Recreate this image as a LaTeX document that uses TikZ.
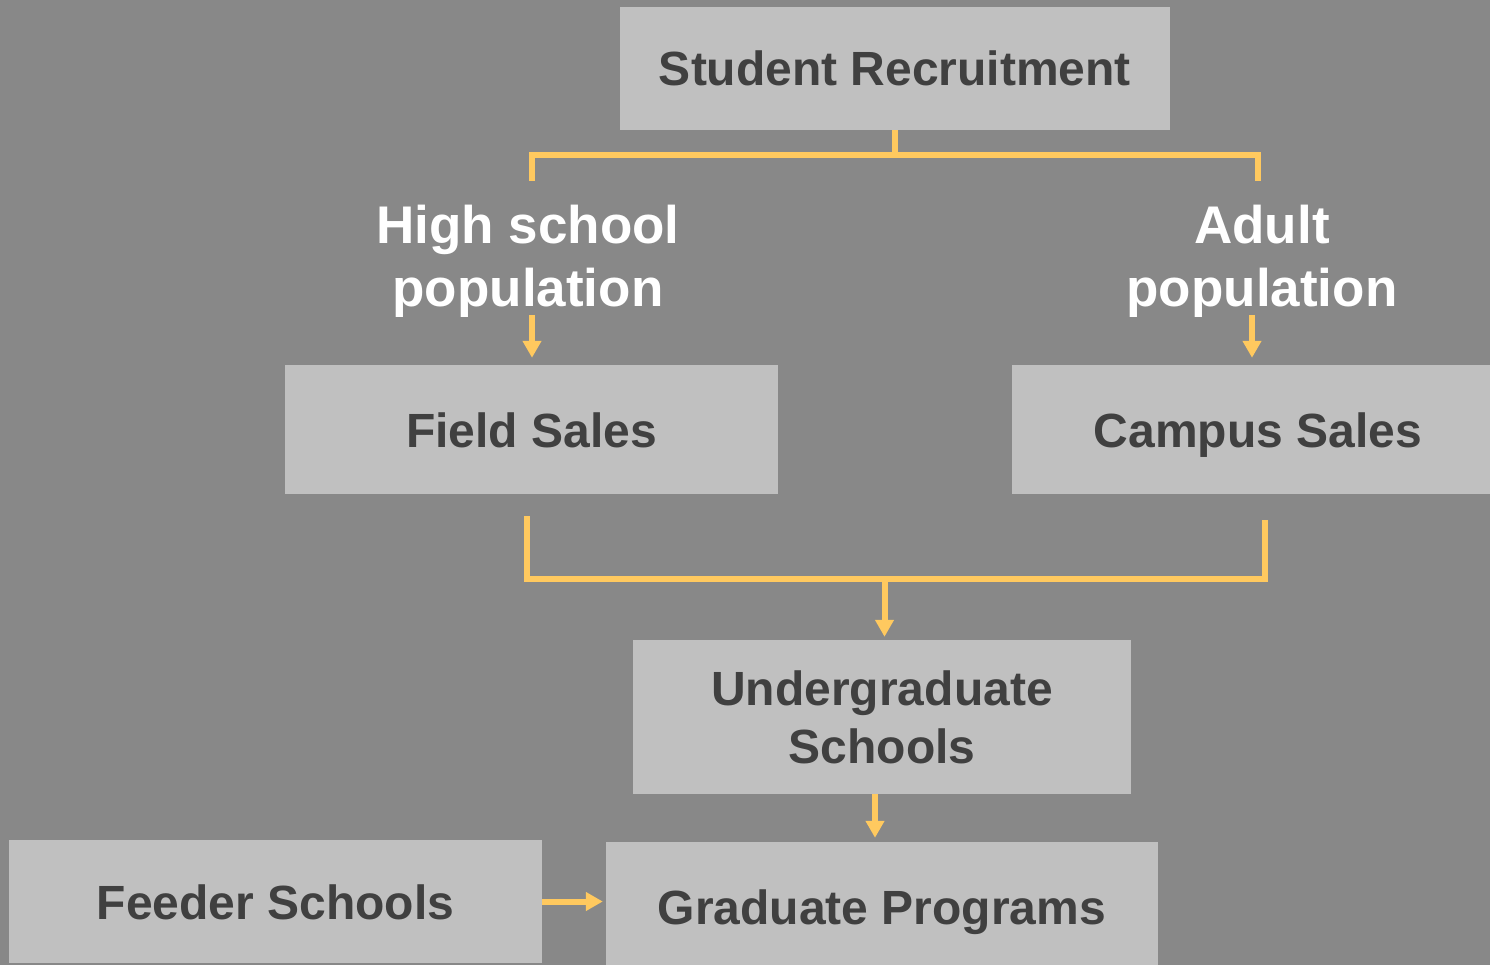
\documentclass[tikz,border=0pt]{standalone}
\usepackage{fontspec}
\setmainfont{Liberation Sans}
\usetikzlibrary{arrows.meta}
\definecolor{bggray}{HTML}{888888}
\definecolor{boxgray}{HTML}{C0C0C0}
\definecolor{boxtext}{HTML}{404040}
\definecolor{flow}{HTML}{FFC95F}
\begin{document}
\begin{tikzpicture}[x=1pt,y=-1pt,
  box/.style={fill=boxgray,draw=none,inner sep=0pt,text=boxtext,
    font=\fontsize{48}{58}\selectfont\bfseries,align=center},
  onerow/.style={box,text height=35pt,text depth=0pt},
  grouplabel/.style={inner sep=0pt,text=white,
    font=\fontsize{53}{63}\selectfont\bfseries,align=center},
  link/.style={draw=flow,line width=6pt,line join=miter},
  arr/.style={link,-{Triangle[length=17pt,width=18pt]}}]
\useasboundingbox (0,0) rectangle (1490,965);
\clip (0,0) rectangle (1490,965);
\fill[bggray] (0,0) rectangle (1490,965);

% boxes
\node[onerow,minimum width=550pt,minimum height=123pt] (rec) at (895,68.5) {Student Recruitment};
\node[onerow,minimum width=493pt,minimum height=129pt] (field) at (531.5,429.5) {Field Sales};
\node[onerow,minimum width=492pt,minimum height=129pt] (campus) at (1258,429.5) {Campus Sales};
\node[box,minimum width=498pt,minimum height=154pt] (under) at (882,717) {Undergraduate\\Schools};
\node[onerow,minimum width=552pt,minimum height=130pt] (grad) at (882,907) {Graduate Programs};
\node[onerow,minimum width=533pt,minimum height=123pt] (feeder) at (275.5,901.5) {Feeder Schools};

% group labels
\node[grouplabel] (hs) at (528,261) {High school\\population};
\node[grouplabel] (adult) at (1262,261) {Adult\\population};

% top bracket
\coordinate (tj) at (895,155.5);
\coordinate (hsTop) at (532,181);
\coordinate (adTop) at (1258,181);
\draw[link] (rec.south) -- (tj);
\draw[link] (hsTop) |- (tj) -| (adTop);

% label arrows
\coordinate (hsOut) at (532,315);
\coordinate (adOut) at (1252,315);
\draw[arr,shorten >=7pt] (hsOut) -- (hsOut |- field.north);
\draw[arr,shorten >=7pt] (adOut) -- (adOut |- campus.north);

% bottom bracket
\coordinate (fsOut) at (527,516);
\coordinate (csOut) at (1265,520);
\coordinate (bj) at (884.5,579);
\draw[link] (fsOut) |- (bj) -| (csOut);
\draw[arr,shorten >=3pt] (bj) -- (bj |- under.north);

% lower arrows
\draw[arr,shorten >=4pt] ([xshift=-7pt]under.south) -- ([xshift=-7pt]grad.north);
\draw[arr,shorten >=3pt] (feeder.east) -- (feeder.east -| grad.west);
\end{tikzpicture}
\end{document}
